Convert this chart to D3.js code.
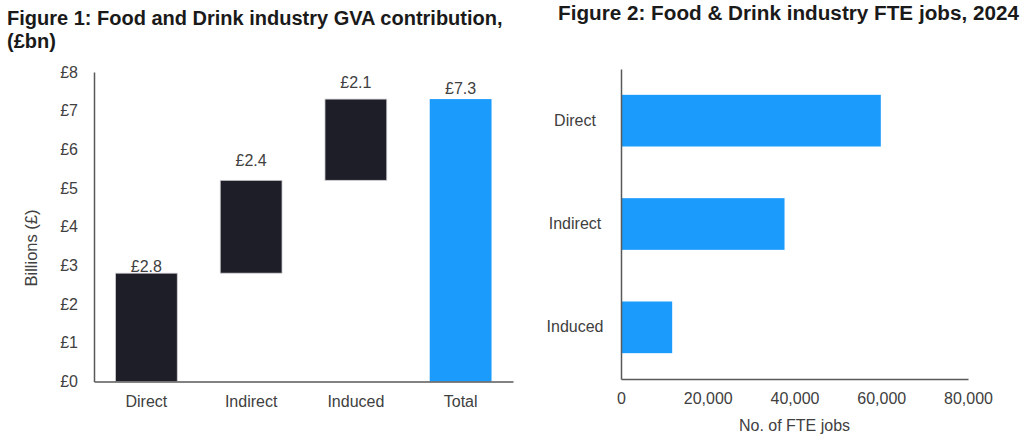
<!DOCTYPE html>
<html>
<head>
<meta charset="utf-8">
<script src="https://cdn.jsdelivr.net/npm/d3@7"></script>
<style>
  body { margin: 0; background: #fff; font-family: "Liberation Sans", Arial, sans-serif; }
  .axis path, .axis line { stroke: #595959; }
  .axis text { fill: #404040; font-size: 16px; font-family: "Liberation Sans", Arial, sans-serif; }
  .title { fill: #1a1a1a; font-weight: bold; font-size: 20px; }
</style>
</head>
<body>
<svg id="chart" width="1024" height="444"></svg>
<script>
// Figure 1: GVA waterfall (£bn)
const gvaCategories = ['Direct', 'Indirect', 'Induced', 'Total'];
const gvaValues = [2.8, 2.4, 2.1, 7.3];
const gvaLabels = ['£2.8', '£2.4', '£2.1', '£7.3'];
const gvaTicks = [0, 1, 2, 3, 4, 5, 6, 7, 8];

// Figure 2: FTE jobs 2024
const jobCategories = ['Direct', 'Indirect', 'Induced'];
const jobValues = [59900, 37700, 11800];
const jobTicks = [0, 20000, 40000, 60000, 80000];

const DARK = '#1e1e28';
const BLUE = '#1b9bfc';
const TEXT = '#404040';
// label lift above each bar top, px (matches the source layout)
const labelLift = [1.5, 14, 11, 5];

const svg = d3.select('#chart');

// ---------- Figure 1 ----------
svg.append('text').attr('class', 'title').attr('x', 7).attr('y', 25)
  .text('Figure 1: Food and Drink industry GVA contribution,');
svg.append('text').attr('class', 'title').attr('x', 7).attr('y', 48)
  .text('(£bn)');

const x1 = d3.scaleBand().domain(gvaCategories).range([94, 513]).paddingInner(0.41).paddingOuter(0.205);
const y1 = d3.scaleLinear().domain([0, 8]).range([381.5, 72]);

// waterfall steps: running start/end
let run = 0;
const steps = gvaCategories.map((c, i) => {
  if (c === 'Total') return { c, lo: 0, hi: gvaValues[i], total: true, label: gvaLabels[i], i };
  const s = { c, lo: run, hi: run + gvaValues[i], total: false, label: gvaLabels[i], i };
  run += gvaValues[i];
  return s;
});

svg.append('g').selectAll('rect').data(steps).join('rect')
  .attr('x', d => x1(d.c))
  .attr('width', x1.bandwidth())
  .attr('y', d => y1(d.hi))
  .attr('height', d => y1(d.lo) - y1(d.hi))
  .attr('fill', d => d.total ? BLUE : DARK)
  .attr('stroke', d => d.total ? 'none' : '#d0d0d4')
  .attr('stroke-width', 0.8);

svg.append('g').selectAll('text').data(steps).join('text')
  .attr('x', d => x1(d.c) + x1.bandwidth() / 2)
  .attr('y', d => y1(d.hi) - labelLift[d.i])
  .attr('text-anchor', 'middle')
  .attr('fill', TEXT)
  .attr('font-size', 16)
  .text(d => d.label);

svg.append('g').attr('class', 'axis')
  .attr('transform', `translate(94,0)`)
  .call(d3.axisLeft(y1).tickValues(gvaTicks).tickSize(0).tickPadding(16).tickFormat(d => `£${d}`))
  .call(g => g.select('.domain').attr('stroke-width', 1.5));

svg.append('g').attr('class', 'axis')
  .attr('transform', `translate(0,${y1(0)})`)
  .call(d3.axisBottom(x1).tickSize(0).tickPadding(14))
  .call(g => g.select('.domain').attr('stroke-width', 1.5));

svg.append('text')
  .attr('transform', 'translate(37,248) rotate(-90)')
  .attr('text-anchor', 'middle')
  .attr('fill', TEXT)
  .attr('font-size', 16.5)
  .text('Billions (£)');

// ---------- Figure 2 ----------
svg.append('text').attr('class', 'title').attr('x', 558).attr('y', 20)
  .attr('font-size', 20.7).style('font-size', '20.7px')
  .text('Figure 2: Food & Drink industry FTE jobs, 2024');

const x2 = d3.scaleLinear().domain([0, 80000]).range([621, 968]);
const y2 = d3.scaleBand().domain(jobCategories).range([69, 379]).paddingInner(0.5).paddingOuter(0.25);

svg.append('g').selectAll('rect').data(jobCategories).join('rect')
  .attr('x', x2(0))
  .attr('y', d => y2(d))
  .attr('width', (d, i) => x2(jobValues[i]) - x2(0))
  .attr('height', y2.bandwidth())
  .attr('fill', BLUE);

svg.append('g').attr('class', 'axis')
  .attr('transform', `translate(0,${y2.range()[1]})`)
  .call(d3.axisBottom(x2).tickValues(jobTicks).tickSize(0).tickPadding(14).tickFormat(d3.format(',')))
  .call(g => g.select('.domain').attr('stroke-width', 1.5));

svg.append('g').attr('class', 'axis')
  .attr('transform', `translate(621,0)`)
  .call(d3.axisLeft(y2).tickSize(0).tickPadding(0))
  .call(g => g.select('.domain').attr('stroke-width', 1.5))
  .call(g => g.selectAll('.tick text').attr('text-anchor', 'middle').attr('x', -46));

svg.append('text')
  .attr('x', (x2.range()[0] + x2.range()[1]) / 2)
  .attr('y', 431)
  .attr('text-anchor', 'middle')
  .attr('fill', TEXT)
  .attr('font-size', 16)
  .text('No. of FTE jobs');
</script>
</body>
</html>
